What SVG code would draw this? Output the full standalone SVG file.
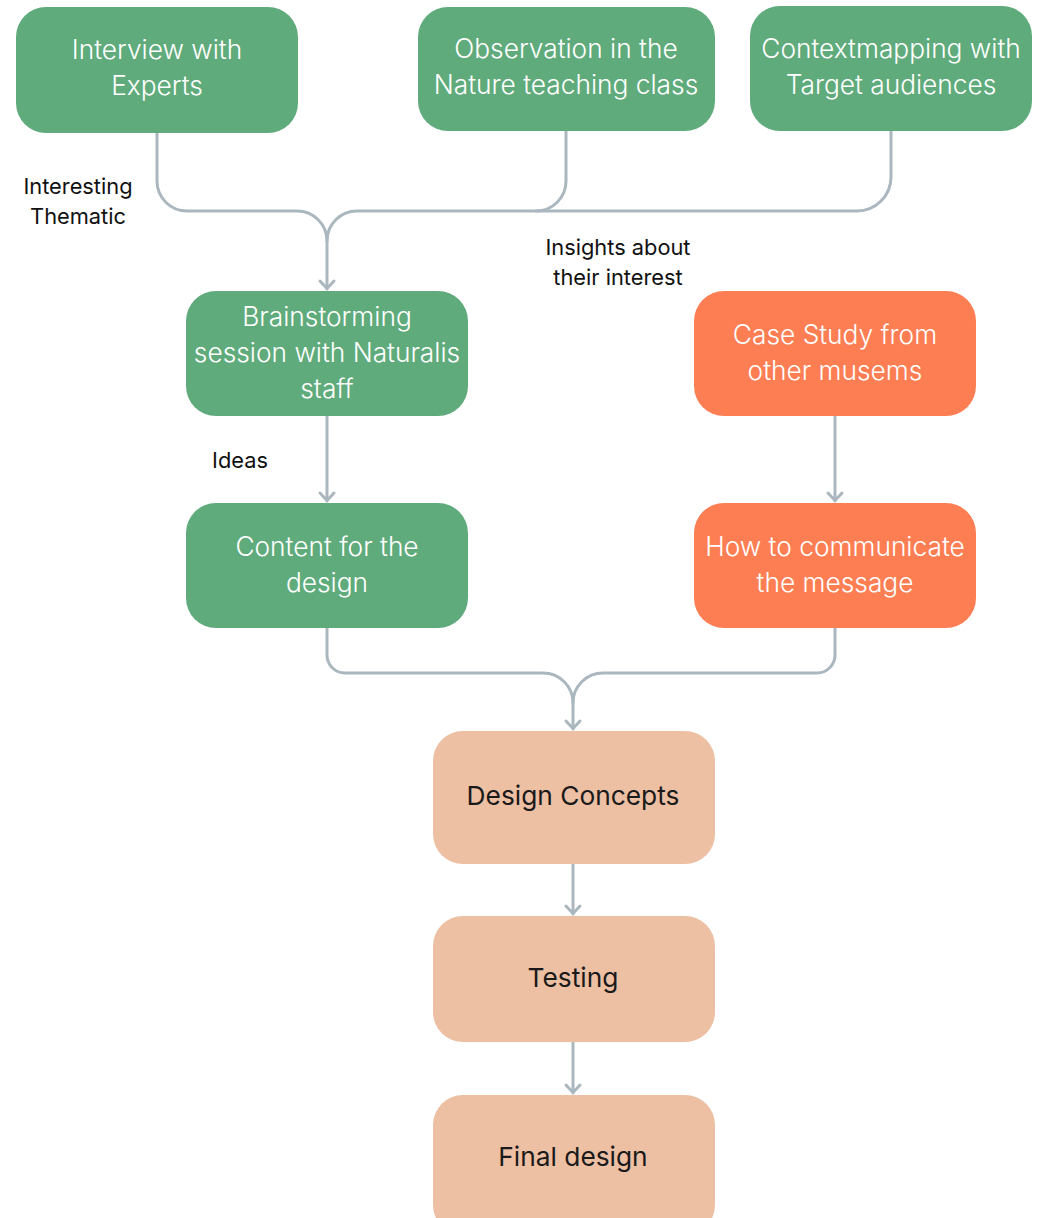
<svg xmlns="http://www.w3.org/2000/svg" width="1044" height="1218" viewBox="0 0 1044 1218">
<defs>
<marker id="arr" viewBox="-1 -10 14 20" refX="11" refY="0" markerWidth="14" markerHeight="20" markerUnits="userSpaceOnUse" orient="auto">
<path d="M3,-7 L10.5,0 L3,7" fill="none" stroke="#ABB7BF" stroke-width="3" stroke-linecap="round" stroke-linejoin="round"/>
</marker>
<style>
.g{fill:#5FAB7C}
.o{fill:#FE7E54}
.p{fill:#EDBFA3}
.t{font-family:Inter,"Open Sans","Liberation Sans",sans-serif;font-size:26.3px;font-weight:300;text-anchor:middle;fill:#ffffff}
.d{fill:#1a1a1a;font-weight:400}
.l{font-family:Inter,"Open Sans","Liberation Sans",sans-serif;font-size:21.8px;text-anchor:middle;fill:#111111}
.c{fill:none;stroke:#ABB7BF;stroke-width:3;stroke-linecap:round;stroke-linejoin:round}
</style>
</defs>
<rect width="1044" height="1218" fill="#ffffff"/>
<g id="connectors">
<path class="c" d="M157,133 V181 A30,30 0 0 0 187,211 H297 A30,30 0 0 1 327,241 V289" marker-end="url(#arr)"/>
<path class="c" d="M566,131 V181 A30,30 0 0 1 536,211"/>
<path class="c" d="M891,131 V177 A34,34 0 0 1 857,211 H357 A30,30 0 0 0 327,241"/>
<path class="c" d="M327,416 V501" marker-end="url(#arr)"/>
<path class="c" d="M835,416 V501" marker-end="url(#arr)"/>
<path class="c" d="M327,628 V655 A18,18 0 0 0 345,673 H543 A30,30 0 0 1 573,703 V729" marker-end="url(#arr)"/>
<path class="c" d="M835,628 V655 A18,18 0 0 1 817,673 H603 A30,30 0 0 0 573,703"/>
<path class="c" d="M573,864 V914" marker-end="url(#arr)"/>
<path class="c" d="M573,1042 V1093" marker-end="url(#arr)"/>
</g>
<g id="labels">
<text class="l" x="78" y="194">Interesting</text>
<text class="l" x="78" y="224">Thematic</text>
<text class="l" x="618" y="255">Insights about</text>
<text class="l" x="618" y="285">their interest</text>
<text class="l" x="240" y="468">Ideas</text>
</g>
<g id="n1"><rect class="g" x="16" y="7" width="282" height="126" rx="30"/>
<text class="t" x="157" y="59">Interview with</text><text class="t" x="157" y="95">Experts</text></g>
<g id="n2"><rect class="g" x="418" y="7" width="297" height="124" rx="30"/>
<text class="t" x="566" y="58">Observation in the</text><text class="t" x="566" y="94">Nature teaching class</text></g>
<g id="n3"><rect class="g" x="750" y="6" width="282" height="125" rx="30"/>
<text class="t" x="891" y="58">Contextmapping with</text><text class="t" x="891" y="94">Target audiences</text></g>
<g id="n4"><rect class="g" x="186" y="291" width="282" height="125" rx="30"/>
<text class="t" x="327" y="326">Brainstorming</text><text class="t" x="327" y="362">session with Naturalis</text><text class="t" x="327" y="398">staff</text></g>
<g id="n5"><rect class="o" x="694" y="291" width="282" height="125" rx="30"/>
<text class="t" x="835" y="344">Case Study from</text><text class="t" x="835" y="380">other musems</text></g>
<g id="n6"><rect class="g" x="186" y="503" width="282" height="125" rx="30"/>
<text class="t" x="327" y="556">Content for the</text><text class="t" x="327" y="592">design</text></g>
<g id="n7"><rect class="o" x="694" y="503" width="282" height="125" rx="30"/>
<text class="t" x="835" y="556">How to communicate</text><text class="t" x="835" y="592">the message</text></g>
<g id="n8"><rect class="p" x="433" y="731" width="282" height="133" rx="30"/>
<text class="t d" x="573" y="805">Design Concepts</text></g>
<g id="n9"><rect class="p" x="433" y="916" width="282" height="126" rx="30"/>
<text class="t d" x="573" y="987">Testing</text></g>
<g id="n10"><rect class="p" x="433" y="1095" width="282" height="140" rx="30"/>
<text class="t d" x="573" y="1166">Final design</text></g>
</svg>
